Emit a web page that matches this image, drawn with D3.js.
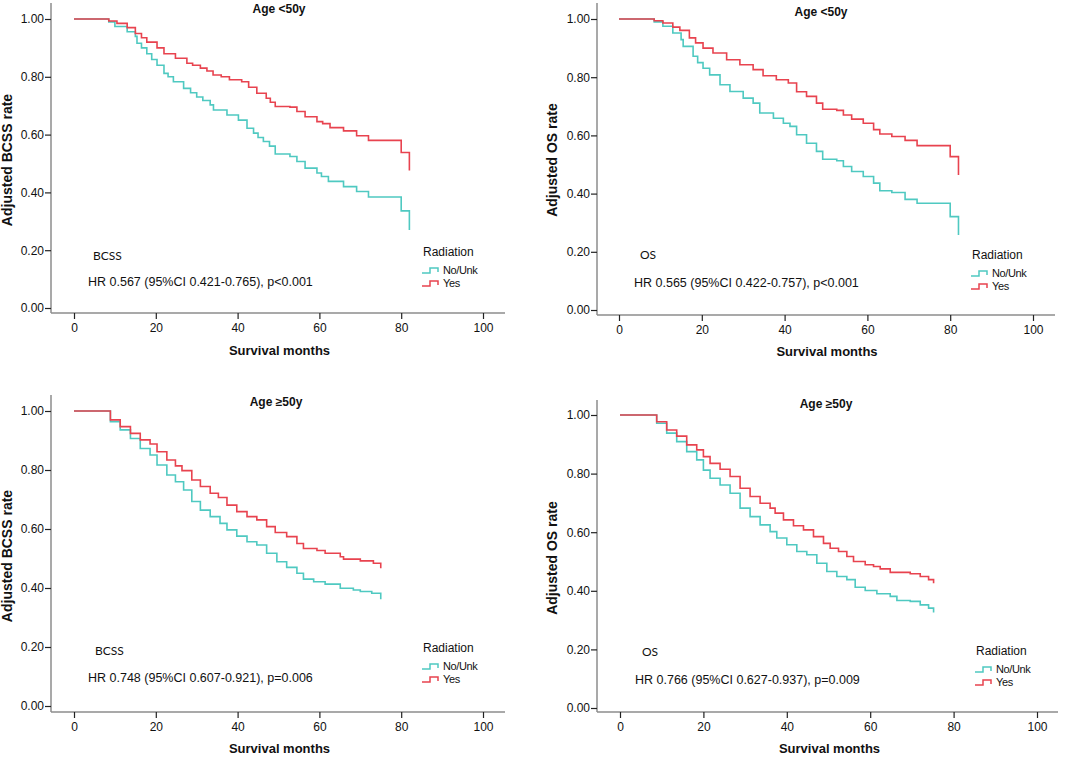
<!DOCTYPE html>
<html>
<head>
<meta charset="utf-8">
<script src="https://cdn.jsdelivr.net/npm/d3@7"></script>
<style>
  body { margin: 0; background: #fff; }
  text { font-family: "Liberation Sans", Arial, sans-serif; fill: #111; }
</style>
</head>
<body>
<div id="chart"></div>
<script>
// ===== DATA (month, adjusted survival) =====
const xTicks = [0, 20, 40, 60, 80, 100];
const yTicks = [0, 0.2, 0.4, 0.6, 0.8, 1.0];
const groups = ["No/Unk", "Yes"];
const titles = ["Age <50y", "Age <50y", "Age \u226550y", "Age \u226550y"];
const yLabels = ["Adjusted BCSS rate", "Adjusted OS rate", "Adjusted BCSS rate", "Adjusted OS rate"];
const tags = ["BCSS", "OS", "BCSS", "OS"];
const hrTexts = [
  "HR 0.567 (95%CI 0.421-0.765), p<0.001",
  "HR 0.565 (95%CI 0.422-0.757), p<0.001",
  "HR 0.748 (95%CI 0.607-0.921), p=0.006",
  "HR 0.766 (95%CI 0.627-0.937), p=0.009"
];

// BCSS, age <50
const bcssU50No = [[0,1],[7,1],[8.5,0.99],[10,0.974],[13,0.956],[15,0.94],[15.4,0.916],[16.5,0.9],[17.8,0.88],[19,0.86],
  [20.3,0.84],[22,0.812],[23,0.8],[24.3,0.783],[26.8,0.76],[28.5,0.745],[30,0.73],[31.5,0.718],[33.3,0.703],[34.1,0.685],
  [37.4,0.668],[40.2,0.65],[42.3,0.622],[43.9,0.605],[45,0.59],[46.3,0.576],[47.8,0.56],[49.2,0.533],[52.8,0.524],[54.5,0.507],
  [56.5,0.484],[59.4,0.467],[60.5,0.455],[62.2,0.438],[65.9,0.42],[69.1,0.403],[72,0.384],[80,0.336],[82,0.27]];
const bcssU50Yes = [[0,1],[7,1],[8.5,0.993],[10.5,0.985],[13,0.97],[15,0.95],[16.5,0.935],[17.8,0.92],[20.3,0.9],[22,0.88],
  [24.8,0.864],[27.6,0.847],[29,0.84],[30.9,0.83],[32.5,0.82],[34,0.806],[36,0.8],[38,0.79],[41,0.783],[42.7,0.764],
  [44.7,0.743],[47,0.726],[48,0.712],[49.2,0.697],[52.8,0.695],[54.5,0.68],[56.5,0.662],[59.4,0.645],[60.8,0.638],[62.6,0.624],
  [65.9,0.613],[69.1,0.596],[72,0.58],[80,0.538],[82,0.476]];

// OS, age <50
const osU50No = [[0,1],[7,1],[8.5,0.99],[10.6,0.975],[13,0.952],[15,0.929],[15.5,0.906],[17.9,0.872],[19,0.85],[20.3,0.831],
  [21.9,0.808],[24.4,0.774],[26.8,0.751],[30,0.728],[32.4,0.711],[34,0.677],[37.3,0.659],[39.7,0.642],[41.3,0.631],[42.9,0.602],
  [45.3,0.573],[47.7,0.545],[49.2,0.518],[52.6,0.513],[54.2,0.493],[56.2,0.476],[59,0.459],[61.5,0.436],[63,0.41],[65.9,0.404],
  [69.1,0.38],[72,0.367],[80,0.321],[82,0.258]];
const osU50Yes = [[0,1],[7,1],[8.5,0.994],[10.6,0.986],[13,0.972],[14.7,0.961],[17,0.935],[18.5,0.918],[20.3,0.9],[22.7,0.883],
  [26,0.86],[29.2,0.843],[32.4,0.826],[34.8,0.805],[38,0.791],[40.9,0.78],[42.9,0.75],[45.3,0.734],[47.7,0.711],[49.2,0.69],
  [52.6,0.686],[54.2,0.67],[56.2,0.656],[59,0.642],[61.5,0.62],[63,0.605],[65.9,0.596],[69.1,0.583],[72,0.565],[80,0.527],[82,0.464]];

// BCSS, age >=50
const bcssO50No = [[0,1],[7,1],[8.9,0.964],[11.3,0.936],[13.8,0.907],[16.2,0.873],[18.6,0.851],[20.3,0.817],[22.7,0.783],
  [24.8,0.76],[26.8,0.732],[28.8,0.693],[30.9,0.664],[33.3,0.642],[35.7,0.619],[37.4,0.597],[39.8,0.576],[42.3,0.557],
  [44.7,0.546],[47.1,0.518],[49.6,0.489],[52,0.47],[54.5,0.45],[56.1,0.43],[58.6,0.421],[61.4,0.413],[65.1,0.399],
  [68.3,0.393],[70,0.388],[72.8,0.382],[75,0.362]];
const bcssO50Yes = [[0,1],[7,1],[8.9,0.97],[11.3,0.947],[13.8,0.924],[16.2,0.902],[18.6,0.888],[20.3,0.862],[22.7,0.834],
  [24.8,0.814],[26.4,0.798],[28.8,0.766],[30.9,0.744],[33.3,0.721],[35.3,0.707],[37.4,0.681],[39.8,0.659],[42.3,0.642],
  [44.7,0.631],[47.1,0.608],[49.2,0.588],[52,0.574],[54.5,0.551],[56.1,0.534],[59.4,0.527],[61.4,0.518],[65.1,0.506],
  [65.9,0.498],[70,0.492],[73.2,0.484],[75,0.467]];

// OS, age >=50
const osO50No = [[0,1],[7,1],[8.8,0.972],[11.2,0.938],[13.6,0.909],[16,0.875],[18.4,0.847],[20,0.812],[21.6,0.784],[24,0.761],
  [26.4,0.733],[28.8,0.682],[31.2,0.653],[33.6,0.625],[36,0.602],[37.6,0.58],[40,0.557],[42.4,0.534],[44.8,0.523],[47.2,0.494],
  [49.6,0.466],[52,0.449],[54.4,0.438],[56.4,0.412],[58.8,0.401],[61.6,0.39],[64.8,0.381],[66.4,0.367],[69.6,0.364],
  [72,0.352],[74,0.341],[75.2,0.326]];
const osO50Yes = [[0,1],[7,1],[8.8,0.977],[11.2,0.949],[13.6,0.928],[16,0.898],[18.4,0.881],[20,0.858],[21.6,0.835],[24,0.815],
  [26.4,0.79],[28.8,0.75],[31.2,0.722],[33.6,0.699],[36,0.682],[37.2,0.665],[39.2,0.642],[41.6,0.622],[44,0.608],[46.4,0.585],
  [48.8,0.562],[50.4,0.545],[52.4,0.534],[54.4,0.517],[56,0.5],[58.8,0.489],[60.8,0.483],[62.4,0.475],[64.8,0.463],
  [69.6,0.458],[72,0.449],[74,0.438],[75.2,0.426]];

const series = [
  [bcssU50No, bcssU50Yes],
  [osU50No, osU50Yes],
  [bcssO50No, bcssO50Yes],
  [osO50No, osO50Yes]
];

// ===== LAYOUT =====
const width = 1084;
const height = 760;

const layouts = [
  { ax: 51,  xr: [74, 483],  yr: [308, 19],  axY: 313, axEnd: 505,  axTop: 3,
    titleX: 279, titleY: 10, ylabX: 8, ylabY: 160, xlabY: 352,
    tagX: 93, tagY: 257, hrX: 88, hrY: 283, legX: 422, legY: 253 },
  { ax: 597, xr: [619, 1033], yr: [310, 19], axY: 315, axEnd: 1055, axTop: 3,
    titleX: 821, titleY: 13, ylabX: 553, ylabY: 160, xlabY: 353,
    tagX: 640, tagY: 256, hrX: 634, hrY: 284, legX: 971, legY: 256 },
  { ax: 51,  xr: [74, 483],  yr: [706, 411], axY: 712, axEnd: 505,  axTop: 395,
    titleX: 276, titleY: 403, ylabX: 8, ylabY: 556, xlabY: 750,
    tagX: 95, tagY: 652, hrX: 88, hrY: 679, legX: 422, legY: 649 },
  { ax: 597, xr: [620, 1037], yr: [708, 415], axY: 712, axEnd: 1058, axTop: 400,
    titleX: 826, titleY: 405, ylabX: 553, ylabY: 558, xlabY: 750,
    tagX: 642, tagY: 653, hrX: 635, hrY: 681, legX: 975, legY: 652 }
];

const color = d3.scaleOrdinal()
  .domain(groups)
  .range(["#4fc9c1", "#e8434f"]);

d3.select("#chart").selectAll("*").remove();

const svg = d3.select("#chart")
  .append("svg")
  .attr("width", width)
  .attr("height", height);

layouts.forEach((L, i) => {
  const g = svg.append("g");

  const x = d3.scaleLinear().domain([0, 100]).range(L.xr);
  const y = d3.scaleLinear().domain([0, 1]).range(L.yr);

  // axis lines
  g.append("line")
    .attr("x1", L.ax).attr("x2", L.ax)
    .attr("y1", L.axTop).attr("y2", L.axY)
    .attr("stroke", "#8c8c8c").attr("stroke-width", 1.5);

  g.append("line")
    .attr("x1", L.ax).attr("x2", L.axEnd)
    .attr("y1", L.axY).attr("y2", L.axY)
    .attr("stroke", "#8c8c8c").attr("stroke-width", 1.5);

  // y ticks
  const yAxis = g.append("g")
    .attr("transform", `translate(${L.ax},0)`)
    .call(d3.axisLeft(y).tickValues(yTicks).tickFormat(d3.format(".2f")).tickSize(6).tickPadding(1));
  yAxis.select(".domain").remove();

  // x ticks
  const xAxis = g.append("g")
    .attr("transform", `translate(0,${L.axY})`)
    .call(d3.axisBottom(x).tickValues(xTicks).tickFormat(d3.format("d")).tickSize(6).tickPadding(4));
  xAxis.select(".domain").remove();

  g.selectAll(".tick line").attr("stroke", "#222").attr("stroke-width", 1.2);
  g.selectAll(".tick text")
    .style("font-family", "'Liberation Sans', Arial, sans-serif")
    .style("font-size", "12px")
    .attr("fill", "#111");

  // curves
  const line = d3.line()
    .x(d => x(d[0]))
    .y(d => y(d[1]))
    .curve(d3.curveStepAfter);

  series[i].forEach((s, k) => {
    g.append("path")
      .datum(s)
      .attr("fill", "none")
      .attr("stroke", color(groups[k]))
      .attr("stroke-width", 1.6)
      .attr("d", line);
  });

  // title
  g.append("text")
    .attr("x", L.titleX).attr("y", L.titleY)
    .attr("text-anchor", "middle")
    .attr("dominant-baseline", "middle")
    .style("font-size", "12px")
    .style("font-weight", "bold")
    .text(titles[i]);

  // y label
  g.append("text")
    .attr("transform", `translate(${L.ylabX},${L.ylabY}) rotate(-90)`)
    .attr("text-anchor", "middle")
    .attr("dominant-baseline", "middle")
    .style("font-size", "14px")
    .style("font-weight", "bold")
    .text(yLabels[i]);

  // x label
  g.append("text")
    .attr("x", (L.xr[0] + L.xr[1]) / 2 + 1).attr("y", L.xlabY)
    .attr("text-anchor", "middle")
    .attr("dominant-baseline", "middle")
    .style("font-size", "13px")
    .style("font-weight", "bold")
    .text("Survival months");

  // endpoint tag
  g.append("text")
    .attr("x", L.tagX).attr("y", L.tagY)
    .attr("dominant-baseline", "middle")
    .style("font-family", "Lato, 'Open Sans', sans-serif")
    .style("font-size", "12px")
    .text(tags[i]);

  // HR text
  g.append("text")
    .attr("x", L.hrX).attr("y", L.hrY)
    .attr("dominant-baseline", "middle")
    .style("font-size", "12.5px")
    .text(hrTexts[i]);

  // legend
  const leg = g.append("g").attr("transform", `translate(${L.legX},${L.legY})`);

  leg.append("text")
    .attr("x", 1).attr("y", 0)
    .attr("dominant-baseline", "middle")
    .style("font-size", "12px")
    .text("Radiation");

  groups.forEach((name, k) => {
    const yy = 18 + k * 13;
    leg.append("path")
      .attr("d", `M0,${yy + 2}H8V${yy - 3}H16V${yy + 1}`)
      .attr("fill", "none")
      .attr("stroke", color(name))
      .attr("stroke-width", 1.5);
    leg.append("text")
      .attr("x", 21).attr("y", yy)
      .attr("dominant-baseline", "middle")
      .style("font-size", "11px")
      .style("letter-spacing", "-0.4px")
      .text(name);
  });
});
</script>
</body>
</html>
